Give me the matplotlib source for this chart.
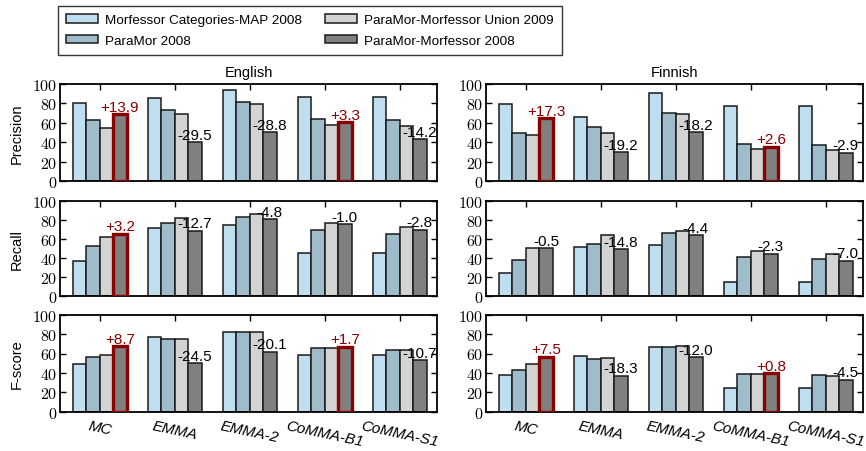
import matplotlib
matplotlib.use("Agg")
import matplotlib.pyplot as plt
import numpy as np
from matplotlib.ticker import FuncFormatter, FixedLocator

plt.rcParams['font.family'] = ['Liberation Sans', 'DejaVu Sans']
plt.rcParams['mathtext.fontset'] = 'cm'

systems = ["MC", "EMMA", "EMMA-2", "CoMMA-B1", "CoMMA-S1"]
series_names = ["Morfessor Categories-MAP 2008", "ParaMor 2008",
                "ParaMor-Morfessor Union 2009", "ParaMor-Morfessor 2008"]
metrics = ["Precision", "Recall", "F-score"]
languages = ["English", "Finnish"]

# values per series (4 lists) of 5 values, one per system
eng_precision = [
    [80.1, 86.0, 93.8, 86.6, 86.3],
    [63.0, 73.0, 81.0, 63.7, 63.0],
    [55.1, 69.5, 79.0, 57.5, 57.2],
    [69.0, 40.0, 50.2, 60.8, 43.0],
]
eng_recall = [
    [36.6, 71.0, 74.6, 45.6, 45.0],
    [52.3, 76.3, 83.3, 69.0, 65.0],
    [62.4, 81.5, 85.6, 76.6, 72.5],
    [65.6, 68.8, 80.8, 75.6, 69.7],
]
eng_fscore = [
    [49.5, 77.3, 82.5, 58.8, 58.4],
    [56.7, 74.5, 81.8, 66.0, 63.6],
    [58.8, 74.5, 82.0, 65.3, 63.6],
    [67.5, 50.0, 61.9, 67.0, 52.9],
]
fin_precision = [
    [79.0, 66.4, 91.0, 77.7, 77.0],
    [50.0, 55.5, 70.0, 38.0, 37.7],
    [47.6, 49.2, 68.7, 33.0, 32.4],
    [64.9, 30.0, 50.5, 35.6, 29.5],
]
fin_recall = [
    [24.7, 52.0, 53.3, 14.6, 14.6],
    [37.6, 55.0, 65.9, 41.0, 39.0],
    [51.0, 64.0, 68.2, 47.0, 44.3],
    [50.5, 49.2, 63.8, 44.7, 37.3],
]
fin_fscore = [
    [37.5, 57.7, 66.7, 24.7, 24.4],
    [42.6, 54.6, 66.7, 39.2, 37.8],
    [49.2, 55.4, 68.0, 39.0, 37.3],
    [56.7, 37.1, 56.0, 39.8, 32.8],
]

eng_precision_notes = ["+13.9", "-29.5", "-28.8", "+3.3", "-14.2"]
eng_recall_notes = ["+3.2", "-12.7", "-4.8", "-1.0", "-2.8"]
eng_fscore_notes = ["+8.7", "-24.5", "-20.1", "+1.7", "-10.7"]
fin_precision_notes = ["+17.3", "-19.2", "-18.2", "+2.6", "-2.9"]
fin_recall_notes = ["-0.5", "-14.8", "-4.4", "-2.3", "-7.0"]
fin_fscore_notes = ["+7.5", "-18.3", "-12.0", "+0.8", "-4.5"]

y_ticks = [0, 20, 40, 60, 80, 100]

data = {
    ("English", "Precision"): (eng_precision, eng_precision_notes),
    ("English", "Recall"): (eng_recall, eng_recall_notes),
    ("English", "F-score"): (eng_fscore, eng_fscore_notes),
    ("Finnish", "Precision"): (fin_precision, fin_precision_notes),
    ("Finnish", "Recall"): (fin_recall, fin_recall_notes),
    ("Finnish", "F-score"): (fin_fscore, fin_fscore_notes),
}

colors = ['#bfdff0', '#9fbccb', '#d3d3d3', '#808080']
edge = '#1a1a1a'
red = '#8b0000'

W, H = 866, 452
fig = plt.figure(figsize=(W / 100, H / 100), dpi=100)

col_x = [60, 486]
col_w = 377
rows = [(85.0, 182.3), (201.7, 297.3), (315.7, 412.7)]

bw = 0.18
offsets = np.array([-1.5, -0.5, 0.5, 1.5]) * bw
x = np.arange(len(systems))

fmt = FuncFormatter(lambda v, p: r'$%d$' % int(round(v)))

for ci, lang in enumerate(languages):
    for ri, met in enumerate(metrics):
        top, bot = rows[ri]
        ax = fig.add_axes([col_x[ci] / W, 1 - bot / H, col_w / W, (bot - top) / H])
        vals, notes = data[(lang, met)]
        for si in range(4):
            bars = ax.bar(x + offsets[si], vals[si], width=bw, color=colors[si],
                          edgecolor=edge, linewidth=1.1, zorder=2,
                          label=series_names[si])
            if si == 3:
                for gi, b in enumerate(bars):
                    if notes[gi].startswith('+'):
                        b.set_edgecolor(red)
                        b.set_linewidth(2.4)
                        b.set_zorder(3)
        for gi, n in enumerate(notes):
            ax.text(x[gi] + offsets[3], vals[3][gi] + 0.5, n,
                    ha='center', va='bottom', fontsize=11,
                    color=red if n.startswith('+') else 'black', zorder=5)
        ax.set_xlim(-0.53, 4.5)
        ax.set_ylim(0, 100)
        ax.yaxis.set_major_locator(FixedLocator(y_ticks))
        ax.yaxis.set_major_formatter(fmt)
        ax.set_xticks(x)
        ax.tick_params(axis='both', direction='in', top=True, right=True,
                       length=4, width=1, labelsize=11.5, pad=2)
        if ri == 2:
            ax.set_xticklabels(systems, rotation=-12, ha='center', va='top',
                               fontsize=11, style='italic')
            ax.tick_params(axis='x', pad=5, bottom=False)
        else:
            ax.set_xticklabels([])
            ax.tick_params(axis='x', bottom=False)
        for s in ax.spines.values():
            s.set_linewidth(1.3)
        if ri == 0:
            ax.set_title(lang, fontsize=10.5, pad=6)
        if ci == 0:
            ax.set_ylabel(met, fontsize=10.5, labelpad=6)
        if ci == 0 and ri == 0:
            handles, labels = ax.get_legend_handles_labels()

leg = fig.legend(handles, series_names,
                 loc='upper left', bbox_to_anchor=(58 / W, 1 - 7 / H), ncol=2,
                 borderaxespad=0, fontsize=9.7, frameon=True, fancybox=False,
                 edgecolor='black', handlelength=2.4, handleheight=0.6,
                 columnspacing=1.7, labelspacing=0.65, borderpad=0.6,
                 handletextpad=0.5)
leg.get_frame().set_linewidth(1.0)
for h in leg.legend_handles:
    h.set_edgecolor(edge)
    h.set_linewidth(1.1)

fig.savefig("out.png", dpi=100)
